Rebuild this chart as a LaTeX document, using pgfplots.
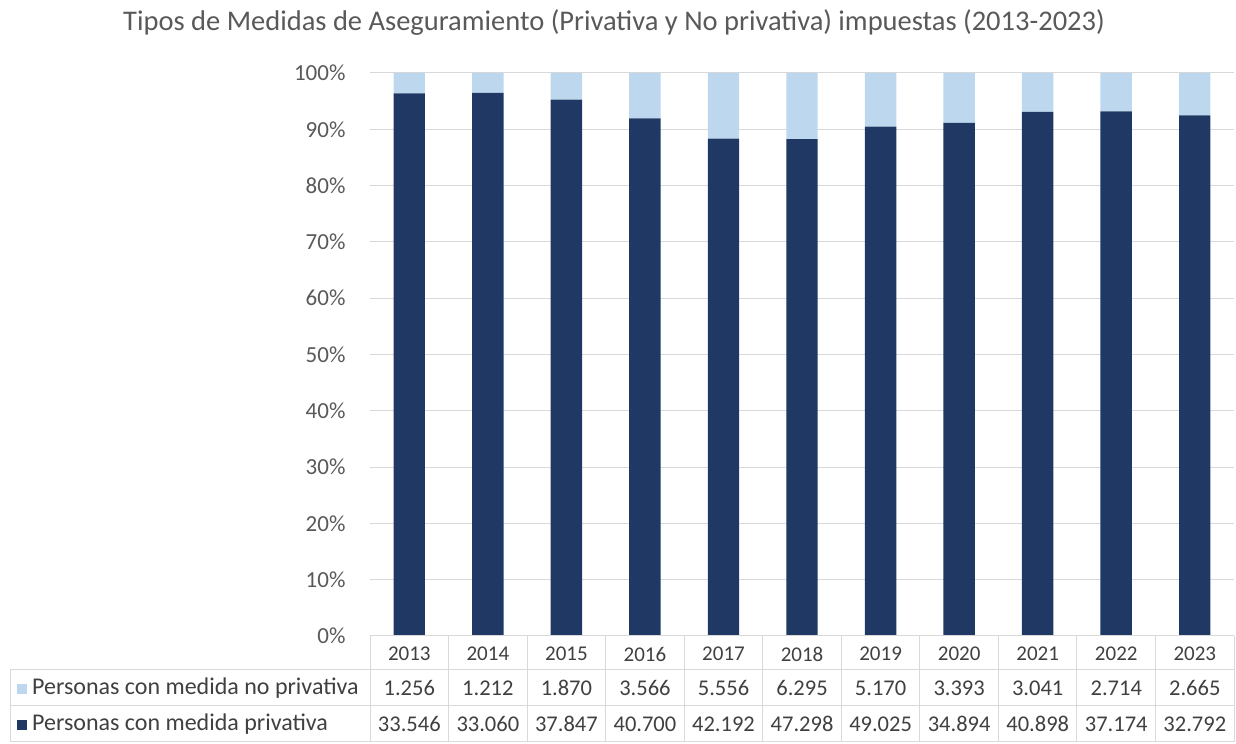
\documentclass[border=0pt]{standalone}
\usepackage{pgfplots}
\pgfplotsset{compat=1.18}
\usepackage{fontspec}
\setmainfont{Carlito}
\definecolor{navy}{HTML}{1F3864}
\definecolor{lightblue}{HTML}{BDD7EE}
\definecolor{txt}{HTML}{404040}
\definecolor{tick}{HTML}{595959}
\definecolor{gridc}{HTML}{D9D9D9}
\newcommand\fs{\fontsize{20bp}{24bp}\selectfont}
\newcommand\fyear{\fontsize{21bp}{24bp}\selectfont}
\newcommand\fnum{\fontsize{22.5bp}{26bp}\selectfont}
\newcommand\flab{\fontsize{24bp}{28bp}\selectfont}
\newcommand\ftick{\fontsize{23bp}{27bp}\selectfont}
\newcommand\ftitle{\fontsize{28.5bp}{32bp}\selectfont}

% shares in % (computed from the table values)
\pgfplotstableread{
x priv nopriv
0 96.39 3.61
1 96.46 3.54
2 95.29 4.71
3 91.94 8.06
4 88.36 11.64
5 88.25 11.75
6 90.46 9.54
7 91.14 8.86
8 93.08 6.92
9 93.20 6.80
10 92.48 7.52
}\shares

\begin{document}
\begin{tikzpicture}[x=1bp,y=1bp]
\useasboundingbox (0,0) rectangle (1236,744);

\node[font=\ftitle, text=tick] at (614,721) {Tipos de Medidas de Aseguramiento (Privativa y No privativa) impuestas (2013-2023)};

\begin{axis}[
    at={(370bp,108bp)}, anchor=south west,
    scale only axis,
    width=864bp, height=563bp,
    xmin=-0.5, xmax=10.5,
    ymin=0, ymax=100,
    ybar stacked,
    bar width=0.4,
    xtick=\empty,
    ytick={0,10,...,100},
    yticklabel={\pgfmathprintnumber{\tick}\%},
    yticklabel style={font=\ftick, text=tick, xshift=-21bp},
    /pgf/number format/assume math mode=true,
    ymajorgrids,
    grid style={gridc, line width=1pt},
    axis line style={draw=none},
    major tick length=0pt,
    clip=false,
]
\addplot[fill=navy, draw=none] table[x=x, y=priv] {\shares};
\addplot[fill=lightblue, draw=none] table[x=x, y=nopriv] {\shares};
\end{axis}

% data table
\begin{scope}[gridc, line width=1pt]
\draw (370,108) -- (1234,108);
\draw (10,74) -- (1234,74);
\draw (10,38) -- (1234,38);
\draw (10,2) -- (1234,2);
\draw (10,74) -- (10,2);
\foreach \k in {0,...,11} \draw ({370+78.55*\k},108) -- ({370+78.55*\k},2);
\end{scope}

\foreach \y [count=\i from 0] in {2013,2014,2015,2016,2017,2018,2019,2020,2021,2022,2023}
  \node[font=\fyear, text=txt] at ({409.3+78.55*\i},90) {\y};
\foreach \v [count=\i from 0] in {1.256,1.212,1.870,3.566,5.556,6.295,5.170,3.393,3.041,2.714,2.665}
  \node[font=\fnum, text=txt] at ({409.3+78.55*\i},56) {\v};
\foreach \v [count=\i from 0] in {33.546,33.060,37.847,40.700,42.192,47.298,49.025,34.894,40.898,37.174,32.792}
  \node[font=\fnum, text=txt] at ({409.3+78.55*\i},20) {\v};

\fill[lightblue] (17,50) rectangle (27,60);
\node[font=\flab, text=txt, anchor=west, inner sep=0] at (32,56) {Personas con medida no privativa};
\fill[navy] (17,14) rectangle (27,24);
\node[font=\flab, text=txt, anchor=west, inner sep=0] at (32,20) {Personas con medida privativa};
\end{tikzpicture}
\end{document}
